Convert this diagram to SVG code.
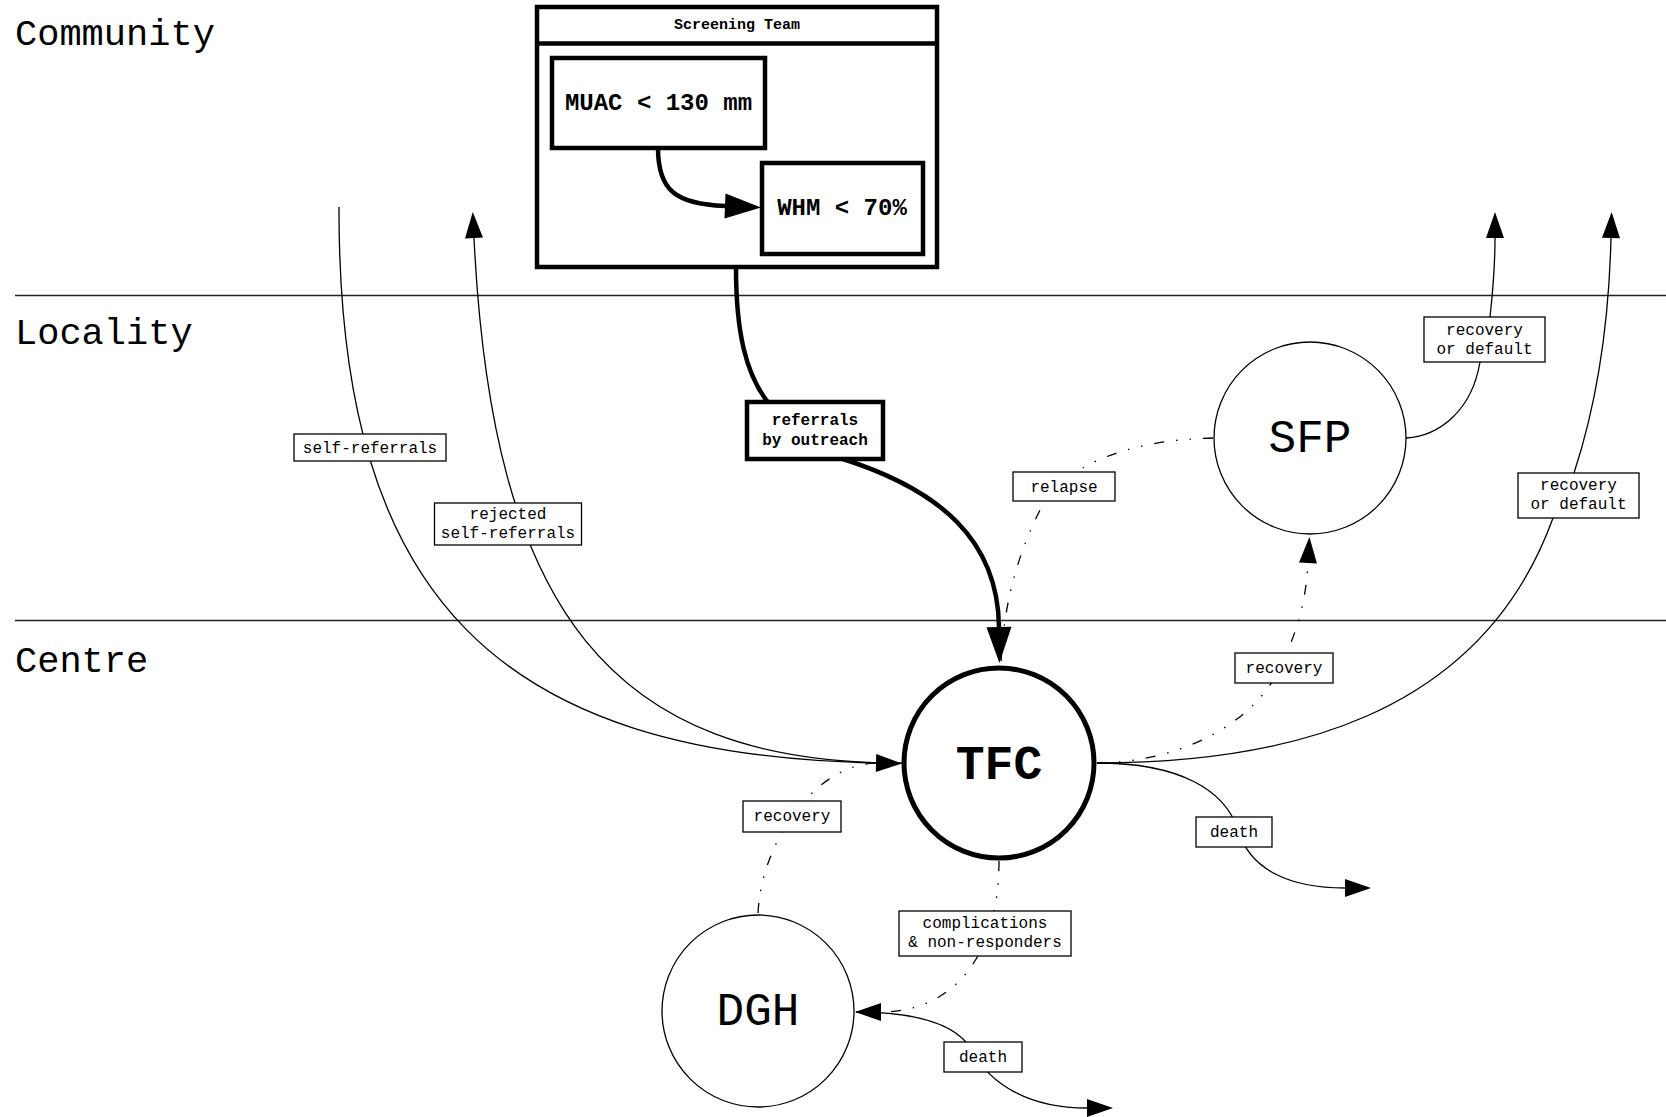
<svg xmlns="http://www.w3.org/2000/svg" width="1666" height="1117" viewBox="0 0 1666 1117">
<style>
  text { font-family: "Liberation Mono", "Courier New", monospace; fill: #000; }
  .lane { font-size: 37px; }
  .lbl { font-size: 16px; text-anchor: middle; }
  .blbl { font-size: 16px; font-weight: bold; text-anchor: middle; }
  .big { font-size: 46px; text-anchor: middle; }
  .bigb { font-size: 48px; font-weight: bold; text-anchor: middle; }
  .crit { font-size: 24px; font-weight: bold; text-anchor: middle; }
  .laneline { stroke: #222; stroke-width: 1.3; fill: none; }
  .thin { stroke: #000; stroke-width: 1.3; fill: none; }
  .thick { stroke: #000; stroke-width: 4.5; fill: none; }
  .dd { stroke: #000; stroke-width: 1.3; fill: none; stroke-dasharray: 10 12 1.5 12 1.5 12; }
  .lbox { fill: #fff; stroke: #000; stroke-width: 1.3; }
  .tbox { fill: #fff; stroke: #000; stroke-width: 4.5; }
  .node { fill: #fff; stroke: #000; stroke-width: 1.3; }
  .nodeb { fill: #fff; stroke: #000; stroke-width: 5; }
</style>
<defs>
  <marker id="ah" markerUnits="userSpaceOnUse" markerWidth="28" markerHeight="20" refX="0" refY="10" orient="auto" overflow="visible">
    <path d="M0,1 L26,10 L0,19 z" fill="#000"/>
  </marker>
  <marker id="ahb" markerUnits="userSpaceOnUse" markerWidth="38" markerHeight="28" refX="0" refY="14" orient="auto" overflow="visible">
    <path d="M0,1.5 L36,14 L0,26.5 z" fill="#000"/>
  </marker>
</defs>
<rect x="0" y="0" width="1666" height="1117" fill="#fff"/>

<g id="lanes">
  <line class="laneline" x1="15" y1="295.5" x2="1666" y2="295.5"/>
  <line class="laneline" x1="15" y1="620.5" x2="1666" y2="620.5"/>
  <text class="lane" x="15" y="45">Community</text>
  <text class="lane" x="15" y="344">Locality</text>
  <text class="lane" x="15" y="672">Centre</text>
</g>

<g id="screening-team">
  <rect class="tbox" x="537" y="7" width="400" height="260"/>
  <line class="thick" x1="537" y1="43.5" x2="937" y2="43.5"/>
  <text class="blbl" x="737" y="29" style="font-size:15px">Screening Team</text>
  <g id="MUAC">
    <rect class="tbox" x="552" y="58" width="213" height="90"/>
    <text class="crit" x="658.5" y="110">MUAC &lt; 130 mm</text>
  </g>
  <g id="WHM">
    <rect class="tbox" x="762" y="163" width="161" height="91"/>
    <text class="crit" x="842" y="215">WHM &lt; 70%</text>
  </g>
</g>

<g id="connectors">
  <path class="thick" d="M658,148 C658,190 675,204 725,206" marker-end="url(#ahb)"/>
  <path class="thick" d="M736,268 C736,330 745,375 770,405 L843,459 C940,490 998,540 999,627" marker-end="url(#ahb)"/>
  <path class="dd" d="M1213,438 C1120,440 1060,470 1040,510 C1015,560 1003,610 1001,665"/>
  <path class="thin" d="M339,207 C338,600 500,755 876,763" marker-end="url(#ah)"/>
  <path class="thin" d="M902,763 C610,764 492,610 474,238" marker-end="url(#ah)"/>
  <path class="dd" d="M758,913 C762,840 815,765 876,763"/>
  <path class="dd" d="M999,861 C999,960 950,1012 881,1012" marker-end="url(#ah)"/>
  <path class="thin" d="M856,1012 C930,1012 960,1030 972,1050 C990,1085 1030,1108 1087,1108" marker-end="url(#ah)"/>
  <path class="thin" d="M1097,763 C1180,763 1225,790 1238,830 C1250,870 1290,888 1345,888" marker-end="url(#ah)"/>
  <path class="dd" d="M1097,763 C1170,763 1250,730 1280,668 C1298,630 1306,600 1308,563" marker-end="url(#ah)"/>
  <path class="thin" d="M1097,763 C1280,763 1480,720 1553,518 L1574,473 C1598,400 1609,320 1611,238" marker-end="url(#ah)"/>
  <path class="thin" d="M1406,438 C1440,436 1472,410 1480,362 L1490,317 C1493,290 1495,260 1495,238" marker-end="url(#ah)"/>
</g>

<g id="TFC">
  <circle class="nodeb" cx="999" cy="763" r="95"/>
  <text class="bigb" x="999" y="779">TFC</text>
</g>
<g id="SFP">
  <circle class="node" cx="1310" cy="438" r="96"/>
  <text class="big" x="1310" y="452">SFP</text>
</g>
<g id="DGH">
  <circle class="node" cx="758" cy="1011" r="96"/>
  <text class="big" x="758" y="1025">DGH</text>
</g>

<g id="edge-labels">
  <g id="lbl-referrals">
    <rect class="tbox" x="747" y="402" width="136" height="57"/>
    <text class="blbl" x="815" y="425">referrals</text>
    <text class="blbl" x="815" y="445">by outreach</text>
  </g>
  <g id="lbl-self">
    <rect class="lbox" x="294" y="434" width="152" height="27"/>
    <text class="lbl" x="370" y="453">self-referrals</text>
  </g>
  <g id="lbl-rejected">
    <rect class="lbox" x="434.5" y="503" width="147" height="42"/>
    <text class="lbl" x="508" y="519">rejected</text>
    <text class="lbl" x="508" y="538">self-referrals</text>
  </g>
  <g id="lbl-relapse">
    <rect class="lbox" x="1013" y="472" width="102" height="29"/>
    <text class="lbl" x="1064" y="492">relapse</text>
  </g>
  <g id="lbl-sfp-out">
    <rect class="lbox" x="1424" y="317" width="121" height="45"/>
    <text class="lbl" x="1484.5" y="335">recovery</text>
    <text class="lbl" x="1484.5" y="354">or default</text>
  </g>
  <g id="lbl-tfc-out">
    <rect class="lbox" x="1518" y="473" width="121" height="45"/>
    <text class="lbl" x="1578.5" y="490">recovery</text>
    <text class="lbl" x="1578.5" y="509">or default</text>
  </g>
  <g id="lbl-recovery-sfp">
    <rect class="lbox" x="1235" y="653" width="98" height="30"/>
    <text class="lbl" x="1284" y="673">recovery</text>
  </g>
  <g id="lbl-recovery-dgh">
    <rect class="lbox" x="743" y="801" width="98" height="31"/>
    <text class="lbl" x="792" y="821">recovery</text>
  </g>
  <g id="lbl-death-tfc">
    <rect class="lbox" x="1196" y="817" width="76" height="30"/>
    <text class="lbl" x="1234" y="837">death</text>
  </g>
  <g id="lbl-complications">
    <rect class="lbox" x="899" y="911" width="172" height="45"/>
    <text class="lbl" x="985" y="928">complications</text>
    <text class="lbl" x="985" y="947">&amp; non-responders</text>
  </g>
  <g id="lbl-death-dgh">
    <rect class="lbox" x="944" y="1042" width="78" height="30"/>
    <text class="lbl" x="983" y="1062">death</text>
  </g>
</g>
</svg>
